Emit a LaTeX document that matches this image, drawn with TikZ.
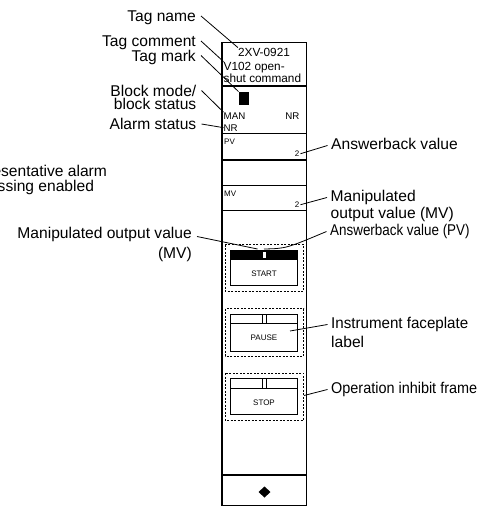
\documentclass[tikz,border=0pt]{standalone}
\usepackage{fontspec}
\usepackage{graphicx}
\setmainfont{Liberation Sans}
\newcommand\labf{\fontsize{15.6}{17}\selectfont}
\newcommand\tagf{\fontsize{11.8}{13}\selectfont}
\newcommand\modef{\fontsize{9.7}{11}\selectfont}
\newcommand\smallf{\fontsize{8}{9}\selectfont}
\begin{document}
\begin{tikzpicture}[x=1pt,y=-1pt,
  frameline/.style={draw=black, line width=1.1pt},
  lblL/.style={font=\labf, anchor=base east, inner xsep=5pt, inner ysep=0pt, text height=11pt, text depth=0pt},
  lblR/.style={font=\labf, anchor=base west, inner xsep=3.5pt, inner ysep=0pt, text height=7pt, text depth=0pt},
  cuttext/.style={font=\labf, anchor=base west, inner sep=0pt},
  leader/.style={draw=black, line width=0.8pt},
  dashframe/.style={draw=black, line width=0.9pt, dash pattern=on 2pt off 1.5pt},
  btnbox/.style={draw=black, line width=1pt},
  intext/.style={inner sep=0pt},
  valtext/.style={font=\smallf, anchor=base east, inner xsep=1pt, inner ysep=0pt}
]
\useasboundingbox (0,0) rectangle (487,507);
\clip (0,0) rectangle (487,507);

% ---------- faceplate sections ----------
\draw[frameline] (222,86) -- (306.5,86);
\draw[frameline] (222,133.5) -- (306.5,133.5);
\draw[frameline] (222,160) -- (306.5,160);
\draw[frameline] (222,185.5) -- (306.5,185.5);
\draw[frameline] (222,210.5) -- (306.5,210.5);
\draw[frameline] (222,475) -- (306.5,475);

% tag area
\node[intext, font=\tagf, anchor=base] (tagname) at (264,56) {2XV-0921};
\node[intext, font=\tagf, anchor=base west] (cmt1) at (223.5,70) {V102 open-};
\node[intext, font=\tagf, anchor=base west] (cmt2) at (223.5,82.5) {shut command};
\node[fill=black, inner sep=0pt, minimum width=10.5pt, minimum height=13pt, anchor=south west] (mark) at (238.5,105) {};
\node[intext, font=\modef, anchor=base west] (man) at (223.5,119) {MAN};
\node[intext, font=\modef, anchor=base east] (nra) at (299.5,119) {NR};
\node[intext, font=\modef, anchor=base west] (nrb) at (223.5,131) {NR};

% PV / MV
\node[intext, font=\smallf, anchor=base west] (pvl) at (224,144) {PV};
\node[valtext] (pvval) at (300.5,156.5) {2};
\node[intext, font=\smallf, anchor=base west] (mvl) at (224,196) {MV};
\node[valtext] (mvval) at (300.5,207.5) {2};

% START button
\draw[dashframe] (225,244.5) rectangle (303.5,291);
\fill[black] (230,250) rectangle (297.5,259.5);
\fill[white] (263,251.5) rectangle (265.5,258);
\draw[btnbox] (230,250) rectangle (297.5,285.5);
\node[intext, font=\smallf, anchor=base] (start) at (264,276.5) {START};

% PAUSE button
\draw[dashframe] (225,308.5) rectangle (303.5,356);
\draw[btnbox] (230,314) rectangle (297.5,351);
\draw[btnbox] (230,323.5) -- (297.5,323.5);
\draw[btnbox] (262,314) rectangle (266,323.5);
\node[intext, font=\smallf, anchor=base] (pause) at (264,340.5) {PAUSE};

% STOP button
\draw[dashframe] (225,373) rectangle (303.5,420);
\draw[btnbox] (230,378.5) rectangle (297.5,414.5);
\draw[btnbox] (230,388.5) -- (297.5,388.5);
\draw[btnbox] (262,378.5) rectangle (266,388.5);
\node[intext, font=\smallf, anchor=base] (stop) at (264,405.5) {STOP};

% bottom diamond
\fill[black] (264.5,486.5) -- (270.5,492) -- (264.5,497.5) -- (258.5,492) -- cycle;

% outer frame
\draw[frameline] (222,42.5) rectangle (306.5,505.5);

% ---------- labels ----------
\node[lblL] (ltn) at (201,21.5) {Tag name};
\node[lblL] (ltc) at (201,46.5) {Tag comment};
\node[lblL] (ltm) at (201,61) {Tag mark};
\node[lblL] (lbm1) at (201.5,96) {Block mode/};
\node[lblL] (lbm2) at (201.5,109.5) {block status};
\node[lblL] (las) at (201.5,129.5) {Alarm status};
\node[cuttext] (rep1) at (-41.5,176) {Representative alarm};
\node[cuttext] (rep2) at (-41.5,191) {processing enabled};
\node[lblL] (lmv1) at (197,238) {Manipulated output value};
\node[lblL] (lmv2) at (197,258.5) {(MV)};

\node[lblR] (rab) at (327.5,149) {Answerback value};
\node[lblR] (rmv1) at (327,201) {Manipulated};
\node[lblR] (rmv2) at (327,218) {output value (MV)};
\node[lblR] (rpv) at (326.5,235) {\scalebox{0.86}[1]{Answerback value (PV)}};
\node[lblR] (rif1) at (327.5,328) {\scalebox{0.97}[1]{Instrument faceplate}};
\node[lblR] (rif2) at (327.5,347) {label};
\node[lblR] (rop) at (327.5,393) {\scalebox{0.925}[1]{Operation inhibit frame}};

% ---------- leader targets ----------
\coordinate (mvband) at (257.5,249);
\coordinate (pvbar) at (264,249);
\coordinate (pauselabel) at (290,331);
\coordinate (stopframe) at (304,395.5);

% ---------- leaders ----------
\draw[leader] (ltn.east) -- (tagname.north west);
\draw[leader] (ltc.east) -- (cmt1.north west);
\draw[leader] (ltm.east) -- (mark.north west);
\draw[leader] (lbm1.east) -- (man.north west);
\draw[leader] (las.east) -- (nrb.west);
\draw[leader] (pvval.east) -- (rab.west);
\draw[leader] (mvval.east) -- (rmv1.west);
\draw[leader] ([yshift=-4pt]lmv1.east) -- (mvband);
\draw[leader] (pvbar) .. controls (286,248.5) .. (rpv.west);
\draw[leader] (pauselabel) -- (rif1.west);
\draw[leader] (stopframe) -- (rop.west);
\end{tikzpicture}
\end{document}
